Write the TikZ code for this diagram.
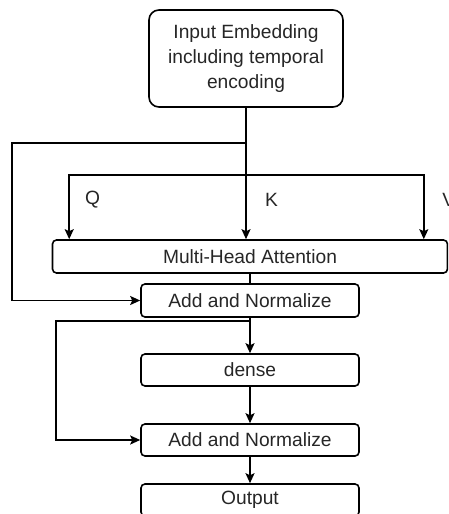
\documentclass[tikz,border=0pt]{standalone}
\usepackage{fontspec}
\setmainfont{Liberation Sans}
\usetikzlibrary{arrows.meta}
\begin{document}
\begin{tikzpicture}[x=1pt,y=-1pt,
  line width=1.6pt,
  txt/.style={text=black!85, font=\fontsize{19.2}{25}\selectfont},
  blockbox/.style={txt, draw, rounded corners=4pt, inner sep=0pt, align=center},
  arr/.style={-{Stealth[length=10pt,width=9pt,inset=2pt]}},
]
\useasboundingbox (0,0) rectangle (448,514);
\clip (0,0) rectangle (448,514);

% blocks
\node[blockbox, rounded corners=10pt, minimum width=194pt, minimum height=97pt]
  (inp) at (246,58.5) {Input Embedding\\including temporal\\encoding};
\node[blockbox, minimum width=395pt, minimum height=33pt] (mha) at (250,256.5) {Multi-Head Attention};
\node[blockbox, minimum width=218pt, minimum height=33pt] (an1) at (250,300.5) {Add and Normalize};
\node[blockbox, minimum width=218pt, minimum height=32pt] (dense) at (250,370) {dense};
\node[blockbox, minimum width=218pt, minimum height=32pt] (an2) at (250,440) {Add and Normalize};
\node[blockbox, minimum width=218pt, minimum height=32pt] (out) at (250,500) {Output};

% branching points
\coordinate (split) at (247,143);
\coordinate (skipA) at (12,143);
\coordinate (qkv) at (247,175);
\coordinate (split2) at (250,321);
\coordinate (skipB) at (56,321);

% Q, K, V inputs
\draw[arr] (inp.south) -- (inp.south |- mha.north);
\draw[arr] (qkv) -| ([xshift=17.5pt]mha.north west);
\draw[arr] (qkv) -| ([xshift=-24.5pt]mha.north east);
\node[txt] (q) at (92.5,200) {Q};
\node[txt] (k) at (271.5,200) {K};
\node[txt, anchor=west, inner sep=0pt] (v) at (441.5,200) {V};

% residual paths
\draw[arr] (split) -- (skipA) |- (an1.west);
\draw[arr] (split2) -- (skipB) |- (an2.west);

% main flow
\draw (mha.south) -- (an1.north);
\draw[arr] (an1.south) -- (dense.north);
\draw[arr] (dense.south) -- (an2.north);
\draw[arr] (an2.south) -- (out.north);
\end{tikzpicture}
\end{document}
